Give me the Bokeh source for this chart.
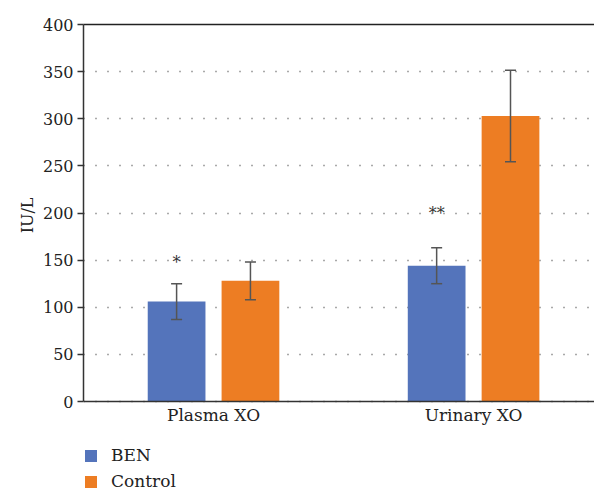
from bokeh.plotting import figure
from bokeh.models import (Range1d, FixedTicker, ColumnDataSource, Whisker, TeeHead,
                          Legend, LegendItem, LinearAxis, Title)
from bokeh.core.properties import value
from bokeh.embed import file_html
from bokeh.resources import INLINE

categories = ["Plasma XO", "Urinary XO"]
series = ["BEN", "Control"]
ben_means = [106, 144]
ben_sd = [19, 19]
control_means = [128, 303]
control_sd = [20, 48.5]
sig_labels = ["*", "**"]
sig_heights = [147, 199]
y_ticks = list(range(0, 401, 50))
y_label = "IU/L"

colors = {"BEN": "#5474bb", "Control": "#ed7d23"}
FONT = "DejaVu Serif"

# frame spans from y=24 to y=491; value 0 sits 90px above the bottom
ymax = 400
ymin = -90 * ymax / 377
p = figure(frame_width=511, frame_height=467, min_border_left=83, min_border_right=0,
           min_border_top=24, min_border_bottom=0,
           x_range=Range1d(0, 1.965), y_range=Range1d(ymin, ymax),
           output_backend="svg", toolbar_location=None)
p.outline_line_color = None
p.background_fill_color = "white"
p.border_fill_color = "white"

offset = 0.142
bar_w = 0.222
xs = [i + 0.5 for i in range(len(categories))]

renderers = {}
for s, means, sds, off in [("BEN", ben_means, ben_sd, -offset),
                           ("Control", control_means, control_sd, offset)]:
    xpos = [x + off for x in xs]
    src = ColumnDataSource(dict(x=xpos, top=means,
                                upper=[m + d for m, d in zip(means, sds)],
                                lower=[m - d for m, d in zip(means, sds)]))
    r = p.vbar(x="x", top="top", width=bar_w, bottom=0, source=src,
               fill_color=colors[s], line_color=None)
    renderers[s] = r
    w = Whisker(base="x", upper="upper", lower="lower", source=src, dimension="height",
                line_color="#555555", line_width=1.5, level="overlay",
                upper_head=TeeHead(size=11, line_color="#555555", line_width=1.5),
                lower_head=TeeHead(size=11, line_color="#555555", line_width=1.5))
    p.add_layout(w)

p.text(x=[x - offset for x in xs], y=sig_heights, text=sig_labels,
       text_font=value(FONT), text_font_size="16px", text_color="#333333",
       text_align="center", text_baseline="middle")

# axes
p.yaxis.ticker = FixedTicker(ticks=y_ticks)
p.yaxis.bounds = (0, ymax)
for ax in [p.yaxis[0], p.xaxis[0]]:
    ax.major_label_text_font = FONT
    ax.major_label_text_color = "#222222"
    ax.axis_line_color = "#333333"
    ax.axis_line_width = 1.5
    ax.minor_tick_line_color = None
p.yaxis.major_label_text_font_size = "16px"
p.xaxis.major_label_text_font_size = "17px"
p.yaxis.major_tick_out = 6
p.yaxis.major_tick_in = 0
p.yaxis.major_tick_line_color = "#333333"
p.yaxis.major_tick_line_width = 1.5
p.yaxis.major_label_standoff = 4

# y-axis title, placed alongside the 0-400 part of the axis
p.add_layout(Title(text=y_label, align="right", offset=173, text_font=FONT,
                   text_font_size="16px", text_font_style="normal",
                   text_color="#222222", standoff=6), "left")

p.xaxis.ticker = FixedTicker(ticks=xs)
p.xaxis.major_label_overrides = {x: c for x, c in zip(xs, categories)}
p.xaxis.major_tick_line_color = None
p.xaxis.major_tick_out = 0
p.xaxis.major_tick_in = 0
p.xaxis.major_label_standoff = 3
p.xaxis.fixed_location = 0

top_ax = LinearAxis(ticker=FixedTicker(ticks=[]), major_tick_line_color=None,
                    minor_tick_line_color=None, axis_line_color="#222222",
                    axis_line_width=1.5, major_tick_out=0, major_tick_in=0)
p.add_layout(top_ax, "above")

p.xgrid.grid_line_color = None
p.ygrid.grid_line_color = "#555555"
p.ygrid.grid_line_dash = "1 11"
p.ygrid.grid_line_width = 1.5
p.ygrid.bounds = (50, 350)

legend = Legend(items=[LegendItem(label=s, renderers=[renderers[s]]) for s in series],
                location=(0, 0), orientation="vertical",
                label_text_font=FONT, label_text_font_size="17px",
                label_text_color="#222222", glyph_width=15, glyph_height=15,
                label_height=15, spacing=6, label_standoff=13, border_line_color=None,
                background_fill_alpha=0, margin=0, padding=0)
p.add_layout(legend, "center")

open("out.html", "w").write(file_html(p, INLINE))
